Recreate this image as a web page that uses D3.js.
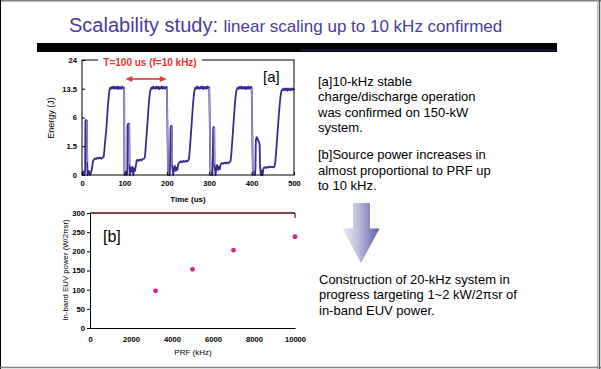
<!DOCTYPE html>
<html><head><meta charset="utf-8">
<script src="https://cdn.jsdelivr.net/npm/d3@7"></script>
<style>
html,body{margin:0;padding:0;background:#fff;}
svg{display:block;font-family:"Liberation Sans",Arial,sans-serif;}
</style></head>
<body>
<svg id="c" width="601" height="369"></svg>
<script>
// ---------- data ----------
const titleMain = "Scalability study:";
const titleSub = "linear scaling up to 10 kHz confirmed";

// panel [a] trace (time in us, energy in J)
const traceT = [0,3,6,7.5,8,9.5,10.5,11.5,12.5,13,16,19,22,24,26,28,30,33,36,39,42,45,48,51,53,55,57,59,61,63,65,67,69,71,73,75,77,79,81,83,85,87,89,91,93,95,97,99.5,
 100.2,103,106,107,107.5,109,110.5,111.5,112,112.5,115,117,119,121,123,125,127,129,131,134,137,140,143,146,148.5,150.5,152.5,154.5,156.5,158.5,160.5,162.5,164,166,168,170,172,174,176,178,180,182,184,186,188,190,192,194,196,198,199.5,
 200.2,203,206,207,207.5,209,210.5,211.5,212,212.5,215,217,219,221,223,225,227,230,233,236,239,242,245,248,250.5,252.5,254.5,256.5,258.5,260.5,262.5,264.5,266,268,270,272,274,276,278,280,282,284,286,288,290,292,294,296,298,299.5,
 300.2,303,306,307.5,308,309.5,310.5,311.5,312,312.5,315,317,319,321,323,325,327,330,333,336,339,342,345,348,350,352,354,356,358,360,362,364,366,368,370,372,374,376,378,380,382,384,386,388,390,392,394,396,398,399.5,
 400.2,403,406,408,409,410,412,414,416,418,419,420,422,424,426,428,431,434,437,440,443,446,449,452,454,456,458,460,462,464,466,468,470,472,474,476,478,480,482,484,486,488,490,492,494,496,498,500];
const traceE = [0,0.02,0,0.05,5.2,5.5,5.0,5.3,0.3,0,0.03,0,0.02,0.12,0.35,0.42,0.5,0.46,0.54,0.49,0.56,0.48,0.55,0.58,1.2,2.3,3.5,5.6,8.5,11.2,13.2,13.9,13.5,14.1,13.6,14.2,13.5,14.0,13.6,14.2,13.4,14.1,13.6,14.0,13.5,14.2,13.6,13.9,
 0,0.02,0,0.1,4.5,4.8,4.4,4.7,0.2,0,0.1,0.02,0.12,0,0.08,0.03,0.15,0.38,0.42,0.36,0.44,0.39,0.46,0.47,0.6,1.6,3.0,5.0,7.6,10.4,12.6,13.5,13.9,13.5,14.2,13.6,14.0,13.5,14.2,13.6,14.1,13.4,14.0,13.6,14.2,13.5,14.1,13.6,14.0,13.5,14.1,13.7,
 0,0.03,0,0.1,4.2,4.4,4.0,4.3,0.2,0,0.08,0.15,0.03,0.1,0.05,0.22,0.3,0.34,0.29,0.36,0.31,0.37,0.33,0.38,0.5,1.3,2.7,4.6,7.2,10.0,12.3,13.4,13.9,13.5,14.2,13.6,14.0,13.5,14.1,13.6,14.2,13.4,14.0,13.6,14.1,13.5,14.2,13.6,13.9,13.7,
 0,0.02,0,0.1,3.9,4.2,3.8,4.0,0.2,0,0.1,0.18,0.05,0.12,0.06,0.2,0.26,0.23,0.28,0.24,0.29,0.25,0.3,0.33,0.7,1.8,3.4,5.6,8.3,10.9,12.8,13.6,13.9,13.5,14.1,13.6,14.2,13.5,14.0,13.6,14.1,13.4,14.0,13.6,14.2,13.5,14.0,13.6,14.1,13.7,
 0,0.02,0,0.05,2.2,2.6,2.4,2.1,1.9,1.6,0.1,0,0.04,0,0.08,0.11,0.09,0.12,0.1,0.13,0.11,0.12,0.1,0.14,0.3,1.0,2.3,4.0,6.2,8.7,11.0,12.6,13.2,13.4,13.0,13.6,13.1,13.5,12.9,13.6,13.1,13.4,13.0,13.6,13.2,13.5,13.1,13.4];

const aXTicks = [0,100,200,300,400,500];
const aYTicks = [0,1.5,6,13.5,24];
const aLabel = "T=100 us (f=10 kHz)";
const periodMarker = [100,200];

// panel [b]
const prf = [3200,5000,7000,10000];
const euvPower = [97,153,203,238];
const bXTicks = [0,2000,4000,6000,8000,10000];
const bYTicks = [0,50,100,150,200,250,300];

const para1 = ["[a]10-kHz stable","charge/discharge operation","was confirmed on 150-kW","system."];
const para2 = ["[b]Source power increases in","almost proportional to PRF up","to 10 kHz."];
const para3 = ["Construction of 20-kHz system in","progress targeting 1~2 kW/2\u03c0sr of","in-band EUV power."];

// ---------- drawing ----------
const svg = d3.select("#c");
const F = '"Liberation Sans",Arial,sans-serif';

// page frame
svg.append("line").attr("x1",0).attr("x2",601).attr("y1",0.75).attr("y2",0.75).attr("stroke","#808080").attr("stroke-width",1.5);
svg.append("line").attr("x1",0.5).attr("x2",0.5).attr("y1",0).attr("y2",369).attr("stroke","#000").attr("stroke-width",1);
svg.append("line").attr("x1",597.5).attr("x2",597.5).attr("y1",0).attr("y2",369).attr("stroke","#bdbdbd").attr("stroke-width",1);
svg.append("line").attr("x1",599.5).attr("x2",599.5).attr("y1",0).attr("y2",369).attr("stroke","#555").attr("stroke-width",1.5);
svg.append("line").attr("x1",0).attr("x2",601).attr("y1",367.5).attr("y2",367.5).attr("stroke","#808080").attr("stroke-width",1.5);

// title
const tt = svg.append("text").attr("x",69).attr("y",32).attr("fill","#4a3c9a").style("font-family",F);
tt.append("tspan").attr("font-size",20).text(titleMain + " ");
tt.append("tspan").attr("font-size",17).text(titleSub);

// black bar
svg.append("rect").attr("x",37).attr("y",43).attr("width",520).attr("height",9).attr("fill","#000");
svg.append("line").attr("x1",300).attr("x2",557).attr("y1",50.2).attr("y2",50.2).attr("stroke","#2e1c60").attr("stroke-width",1.2);

// ---------- panel a ----------
const ax = d3.scaleLinear().domain([0,500]).range([82,294]);
const ay = d3.scaleSqrt().domain([0,24]).range([175,60]);
const ga = svg.append("g");

const trace = traceT.map((t,i)=>[t,traceE[i]]);
ga.append("path").datum(trace)
  .attr("d", d3.line().x(d=>ax(d[0])).y(d=>ay(d[1])))
  .attr("fill","none").attr("stroke","#3a2a8e").attr("stroke-width",1.8).attr("stroke-linejoin","round");
// fast falling edges drawn lighter (anti-aliased thin verticals)
const drops = trace.slice(1).map((d,i)=>[trace[i],d]).filter(p=>p[0][1]-p[1][1]>3);
ga.selectAll("line.drop").data(drops).join("line")
  .attr("x1",p=>ax(p[0][0])).attr("y1",p=>ay(p[0][1]))
  .attr("x2",p=>ax(p[1][0])).attr("y2",p=>ay(p[1][1]))
  .attr("stroke","#9c92cc").attr("stroke-width",1.4);

ga.append("rect").attr("x",82).attr("y",60).attr("width",212).attr("height",115)
  .attr("fill","none").attr("stroke","#000").attr("stroke-width",1);

const axA = ga.append("g").attr("transform","translate(0,175)")
  .call(d3.axisBottom(ax).tickValues(aXTicks).tickSize(-3).tickPadding(6).tickFormat(d3.format("d")));
const ayA = ga.append("g").attr("transform","translate(82,0)")
  .call(d3.axisLeft(ay).tickValues(aYTicks).tickSize(-3).tickPadding(5).tickFormat(d=>String(d)));
[axA,ayA].forEach(g=>{
  g.select(".domain").remove();
  g.selectAll("text").attr("font-size",7.6).attr("font-weight","bold").attr("fill","#000").style("font-family",F);
  g.selectAll("line").attr("stroke","#000");
});

ga.append("text").attr("x",188).attr("y",202).attr("text-anchor","middle").attr("font-size",8).attr("font-weight","bold").style("font-family",F).text("Time (us)");
ga.append("text").attr("transform","translate(54,118) rotate(-90)").attr("text-anchor","middle").attr("font-size",9).style("font-family",F).text("Energy (J)");

// label with white box
ga.append("rect").attr("x",98).attr("y",54).attr("width",104).attr("height",13).attr("fill","#fff");
ga.append("text").attr("x",150).attr("y",65.5).attr("text-anchor","middle").attr("font-size",10).attr("font-weight","bold").attr("fill","#e8312f").style("font-family",F).text(aLabel);

// double-headed arrow
const arY = 79, x1 = ax(periodMarker[0])+1, x2 = ax(periodMarker[1]);
ga.append("line").attr("x1",x1+5).attr("x2",x2-5).attr("y1",arY).attr("y2",arY).attr("stroke","#e33a3a").attr("stroke-width",1.6);
ga.append("path").attr("d",`M${x1},${arY} L${x1+7},${arY-3} L${x1+7},${arY+3} Z`).attr("fill","#e33a3a");
ga.append("path").attr("d",`M${x2},${arY} L${x2-7},${arY-3} L${x2-7},${arY+3} Z`).attr("fill","#e33a3a");

ga.append("text").attr("x",263).attr("y",82).attr("font-size",15).style("font-family",F).text("[a]");

// ---------- panel b ----------
const bx = d3.scaleLinear().domain([0,10000]).range([90,295]);
const by = d3.scaleLinear().domain([0,300]).range([328,213]);
const gb = svg.append("g");

gb.append("line").attr("x1",90).attr("x2",295).attr("y1",by(300)).attr("y2",by(300)).attr("stroke","#7a4848").attr("stroke-width",2);
gb.append("line").attr("x1",295).attr("x2",295).attr("y1",by(300)).attr("y2",by(300)+5).attr("stroke","#000").attr("stroke-width",1);

const bxA = gb.append("g").attr("transform","translate(0,328)")
  .call(d3.axisBottom(bx).tickValues(bXTicks).tickSize(0).tickPadding(9).tickFormat(d3.format("d")));
const byA = gb.append("g").attr("transform","translate(90,0)")
  .call(d3.axisLeft(by).tickValues(bYTicks).tickSize(3).tickPadding(2).tickFormat(d3.format("d")));
[bxA,byA].forEach(g=>{
  g.select(".domain").attr("stroke","#000").attr("stroke-width",1);
  g.selectAll("text").attr("font-size",7.6).attr("font-weight","bold").attr("fill","#000").style("font-family",F);
  g.selectAll("line").attr("stroke","#000");
});

gb.selectAll("circle.pt").data(prf.map((p,i)=>[p,euvPower[i]])).join("circle")
  .attr("cx",d=>bx(d[0])).attr("cy",d=>by(d[1])).attr("r",2.4).attr("fill","#e0207e");

gb.append("text").attr("x",193).attr("y",354.5).attr("text-anchor","middle").attr("font-size",8).style("font-family",F).text("PRF (kHz)");
gb.append("text").attr("transform","translate(67.5,270) rotate(-90)").attr("text-anchor","middle").attr("font-size",7.8).style("font-family",F).text("In-band EUV power (W/2\u03c0sr)");
gb.append("text").attr("x",103).attr("y",242).attr("font-size",16).style("font-family",F).text("[b]");

// ---------- right text ----------
function para(lines, x, y0, lh){
  const t = svg.append("text").attr("font-size",13).attr("fill","#000").style("font-family",F);
  lines.forEach((l,i)=>t.append("tspan").attr("x",x).attr("y",y0+i*lh).text(l));
}
para(para1, 318, 85.5, 15.6);
para(para2, 318, 159, 15.6);
para(para3, 319, 284, 15.4);

// gradient arrow
const defs = svg.append("defs");
const lg = defs.append("linearGradient").attr("id","ag").attr("x1","0").attr("x2","1").attr("y1","0").attr("y2","0");
lg.append("stop").attr("offset","0").attr("stop-color","#ececf6");
lg.append("stop").attr("offset","0.45").attr("stop-color","#b9b9dc");
lg.append("stop").attr("offset","1").attr("stop-color","#5a5aa4");
svg.append("path").attr("d","M353,203 L370,203 L370,228.5 L379.5,228.5 L361,263 L342.5,228.5 L353,228.5 Z")
  .attr("fill","url(#ag)");
</script>
</body></html>
